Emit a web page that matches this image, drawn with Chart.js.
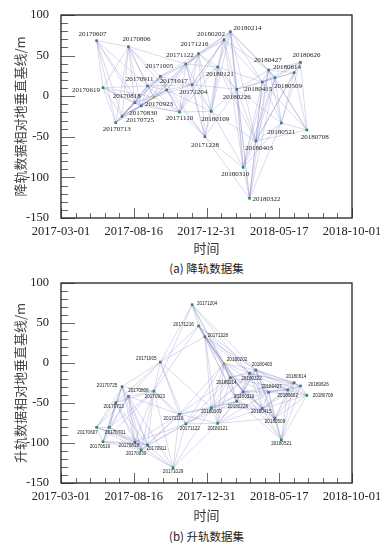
<!DOCTYPE html>
<html>
<head>
<meta charset="utf-8">
<script src="https://cdn.jsdelivr.net/npm/chart.js@4.4.1/dist/chart.umd.min.js"></script>
<style>
body{margin:0;background:#fff;width:384px;height:550px;position:relative;overflow:hidden;}
canvas{position:absolute;left:0;}
#c1{top:0;}
#c2{top:270px;}
.cap{position:absolute;left:0;width:413px;text-align:center;font-family:"Noto Sans CJK SC";font-size:11.5px;color:#222;}
</style>
</head>
<body>
<canvas id="c1" width="384" height="258"></canvas>
<div class="cap" style="top:260px">(a) 降轨数据集</div>
<canvas id="c2" width="384" height="255"></canvas>
<div class="cap" style="top:528px">(b) 升轨数据集</div>
<script>
// x axis: days from the first tick, tick labels as printed
var xTickDays = [0, 137, 274, 411, 548];
var xTickLabels = ["2017-03-01", "2017-08-16", "2017-12-31", "2018-05-17", "2018-10-01"];

// 降轨 (descending)
var descDates = ["20170607","20170619","20170713","20170725","20170806","20170818","20170830","20170911","20170923","20171005",
  "20171017","20171110","20171122","20171204","20171216","20171228","20180109","20180121","20180202","20180214",
  "20180226","20180310","20180322","20180403","20180415","20180427","20180509","20180521","20180614","20180626","20180708"];
var descBaseline = [68.4, 10.5, -32.6, -24.8, 61, -8, -12, 12.6, -1.4, 24.5,
  7.6, -19.5, 39.7, 14.2, 52.4, -50, -18.6, 36, 69.6, 79.5,
  8.5, -87.6, -125.7, -55.2, 17.5, 32.3, 22.8, -33, 29, 41.7, -41.6];
var descMaster = "20170923";
// interferogram pairs: for node i, the later nodes it is linked to
var descLinks = [
  [1,2,3,4,5,6,7], [2,3,4,5,6,7,8], [3,4,5,6,7,8,9], [4,5,6,7,8,9,10], [5,6,7,8,9,10,12],
  [6,7,8,9,10,11], [7,8,9,10,11,12], [8,9,10,11,12,13], [9,10,11,12,13,14], [10,11,12,13,14,15],
  [11,12,13,14,15,16], [12,13,14,15,16,17,18], [13,14,15,16,17,18,19], [14,15,16,17,18,19,20], [15,16,17,18,19,20],
  [16,17,20,21,22], [17,18,19,20,21,23], [18,19,20,23,24], [19,20,21,24,25], [20,21,22,23,24,25,26],
  [21,22,23,24,25,26,27], [22,23,24,25,26,27], [23,24,25,26,27], [24,25,26,27,28,29,30], [25,26,27,28,29,30],
  [26,27,28,29,30], [27,28,29,30], [28,29,30], [29,30], [30], []
];

// 升轨 (ascending)
var ascDates = ["20170607","20170619","20170701","20170713","20170725","20170806","20170818","20170830","20170911","20170923",
  "20171005","20171029","20171110","20171122","20171204","20171216","20171228","20180109","20180121","20180202",
  "20180214","20180226","20180310","20180322","20180403","20180415","20180427","20180509","20180521","20180602",
  "20180614","20180626","20180708"];
var ascBaseline = [-80.4, -98.4, -80.4, -49.6, -29.6, -41.7, -99, -108.7, -102.5, -35,
  1.2, -131, -64, -76, 72.9, 46.3, 32.9, -56, -75.4, -0.4,
  -18.3, -47.9, -36.2, -12.9, -8.7, -57, -36.7, -69, -96, -33.7,
  -24.6, -28.7, -40.4];
var ascMaster = "20180202";
var ascLinks = [
  [1,2,3,4,5,6,7,8], [2,3,4,5,6,7,8,9], [3,4,5,6,7,8,9], [4,5,6,7,8,9,10], [5,6,7,8,9,10],
  [6,7,8,9,10,11,12], [7,8,9,11,12,13], [8,9,11,12,13], [9,11,12,13], [10,11,12,13,14,15],
  [12,13,14,15,16,17], [12,13,17,18], [13,17,18,19,20,21], [17,18,19,20,21,22], [15,16,19,20,23,24],
  [16,19,20,21,22,23,24], [17,18,19,20,21,22,23,24], [18,19,20,21,22,23,24,25], [19,20,21,22,25,26,27], [20,21,22,23,24,25,26],
  [21,22,23,24,25,26,27,29], [22,23,24,25,26,27,28], [23,24,25,26,27,28,29,30], [24,25,26,27,29,30,31], [25,26,27,28,29,30,31,32],
  [26,27,28,29,30,31,32], [27,28,29,30,31,32], [28,29,30,31,32], [29,30,31,32], [30,31,32],
  [31,32], [32], []
];

// where each date label sits relative to its point (px)
var descLabelShift = {
  "20170607":[-4,-7],"20170619":[-17,2],"20170713":[1,6],"20170725":[18,4],"20170806":[8,-8],"20170818":[-8,-7],
  "20170830":[2,7],"20170911":[-8,-7],"20170923":[5,7],"20171005":[-1,-10],"20171017":[7,-9],"20171110":[0,6],
  "20171122":[-6,-9],"20171204":[1,7],"20171216":[-4,-9],"20171228":[0,8],"20180109":[4,8],"20180121":[2,7],
  "20180202":[-13,-6],"20180214":[17,-3],"20180226":[0,8],"20180310":[-8,7],"20180322":[17,1],"20180403":[3,7],
  "20180415":[-4,7],"20180427":[-1,-10],"20180509":[13,8],"20180521":[0,9],"20180614":[-7,-5],"20180626":[6,-7],
  "20180708":[8,7]
};
var ascLabelShift = {
  "20170607":[-9,5],"20170619":[-3,5],"20170701":[6,5],"20170713":[-2,4],"20170725":[-15,-1],"20170806":[10,-6],
  "20170818":[-6,4],"20170830":[-5,4],"20170911":[9,4],"20170923":[1,6],"20171005":[-14,-3],"20171029":[0,4],
  "20171110":[-6,5],"20171122":[4,5],"20171204":[15,-1],"20171216":[-15,-1],"20171228":[13,-1],"20180109":[0,4],
  "20180121":[0,5],"20180202":[13,-4],"20180214":[-4,5],"20180226":[1,5],"20180310":[1,5],"20180322":[2,5],
  "20180403":[6,-5],"20180415":[-1,3],"20180427":[3,-6],"20180509":[0,4],"20180521":[0,4],"20180602":[0,6],
  "20180614":[2,-6],"20180626":[18,-1],"20180708":[16,0]
};

function dayOf(s) {
  var t = Date.UTC(+s.slice(0,4), +s.slice(4,6) - 1, +s.slice(6,8));
  return (t - Date.UTC(2017, 3, 1)) / 86400000;
}

// frame and inward ticks
var framePlugin = {
  id: "frame",
  afterDraw: function (chart) {
    var ctx = chart.ctx, a = chart.chartArea, xs = chart.scales.x, ys = chart.scales.y;
    ctx.save();
    ctx.strokeStyle = "#666";
    ctx.lineWidth = 1;
    ctx.beginPath();
    for (var v = -150; v <= 100; v += 10) {
      var py = Math.round(ys.getPixelForValue(v)) + 0.5;
      var len = (v % 50 === 0) ? 14 : 7;
      ctx.moveTo(a.left, py); ctx.lineTo(a.left + len, py);
    }
    for (var k = 0; k <= 20; k++) {
      var px = Math.round(xs.getPixelForValue(k * 27.4)) + 0.5;
      var l2 = (k % 5 === 0) ? 10 : 5;
      ctx.moveTo(px, a.bottom); ctx.lineTo(px, a.bottom - l2);
    }
    ctx.stroke();
    ctx.strokeStyle = "#222";
    ctx.lineWidth = 1.3;
    ctx.strokeRect(a.left, a.top, a.right - a.left, a.bottom - a.top);
    ctx.restore();
  }
};

var labelPlugin = {
  id: "dateLabels",
  afterDatasetsDraw: function (chart, args, opts) {
    var ctx = chart.ctx;
    var idx = chart.data.datasets.length - 1;
    var meta = chart.getDatasetMeta(idx);
    ctx.save();
    ctx.font = opts.font;
    ctx.fillStyle = opts.color;
    ctx.textAlign = "center";
    ctx.textBaseline = "middle";
    meta.data.forEach(function (el, i) {
      var d = opts.dates[i], sh = opts.shift[d] || [0, 6];
      ctx.fillText(d, el.x + sh[0], el.y + sh[1]);
    });
    ctx.restore();
  }
};

function makeChart(id, dates, base, links, master, shift, yTitle, labelFont, plotTop, axisH) {
  var ds = [];
  for (var i = 0; i < links.length; i++) {
    for (var j = 0; j < links[i].length; j++) {
      var k = links[i][j];
      ds.push({
        data: [{x: dayOf(dates[i]), y: base[i]}, {x: dayOf(dates[k]), y: base[k]}],
        showLine: true, borderColor: "rgba(105,105,185,0.42)", borderWidth: 0.6,
        pointRadius: 0
      });
    }
  }
  ds.push({
    data: dates.map(function (d, i) { return {x: dayOf(d), y: base[i]}; }),
    pointStyle: "rect", pointRadius: 1.8, borderWidth: 0,
    pointBackgroundColor: dates.map(function (d) { return d === master ? "#f2f200" : "#138a3c"; })
  });
  var tickFont = {family: "Liberation Serif", size: 12.5};
  return new Chart(document.getElementById(id), {
    type: "scatter",
    data: {datasets: ds},
    options: {
      responsive: false, animation: false, events: [],
      layout: {padding: {left: 0, right: 32, top: plotTop, bottom: 0}},
      plugins: {
        legend: {display: false}, tooltip: {enabled: false},
        dateLabels: {dates: dates, shift: shift, font: labelFont, color: "#222"}
      },
      scales: {
        x: {
          type: "linear", min: 0, max: 548,
          afterBuildTicks: function (s) { s.ticks = xTickDays.map(function (v) { return {value: v}; }); },
          afterFit: function (s) { s.height = axisH; },
          ticks: {font: tickFont, color: "#222", padding: -2, maxRotation: 0, autoSkip: false,
            callback: function (v, i) { return xTickLabels[i]; }},
          grid: {display: false}, border: {display: false},
          title: {display: true, text: "时间", font: {family: "Noto Sans CJK SC", size: 13}, color: "#333",
            padding: {top: 0, bottom: 2}}
        },
        y: {
          min: -150, max: 100,
          afterFit: function (s) { s.width = 61; },
          ticks: {stepSize: 50, font: tickFont, color: "#222", padding: 4},
          grid: {display: false}, border: {display: false},
          title: {display: true, text: yTitle, font: {family: "Noto Sans CJK SC", size: 13}, color: "#444",
            padding: {top: 12, bottom: 0}}
        }
      }
    },
    plugins: [framePlugin, labelPlugin]
  });
}

makeChart("c1", descDates, descBaseline, descLinks, descMaster, descLabelShift,
  "降轨数据相对地垂直基线/m", "7px 'Liberation Serif'", 15, 40);
makeChart("c2", ascDates, ascBaseline, ascLinks, ascMaster, ascLabelShift,
  "升轨数据相对地垂直基线/m", "4.6px 'Liberation Sans'", 13, 42);
</script>
</body>
</html>
